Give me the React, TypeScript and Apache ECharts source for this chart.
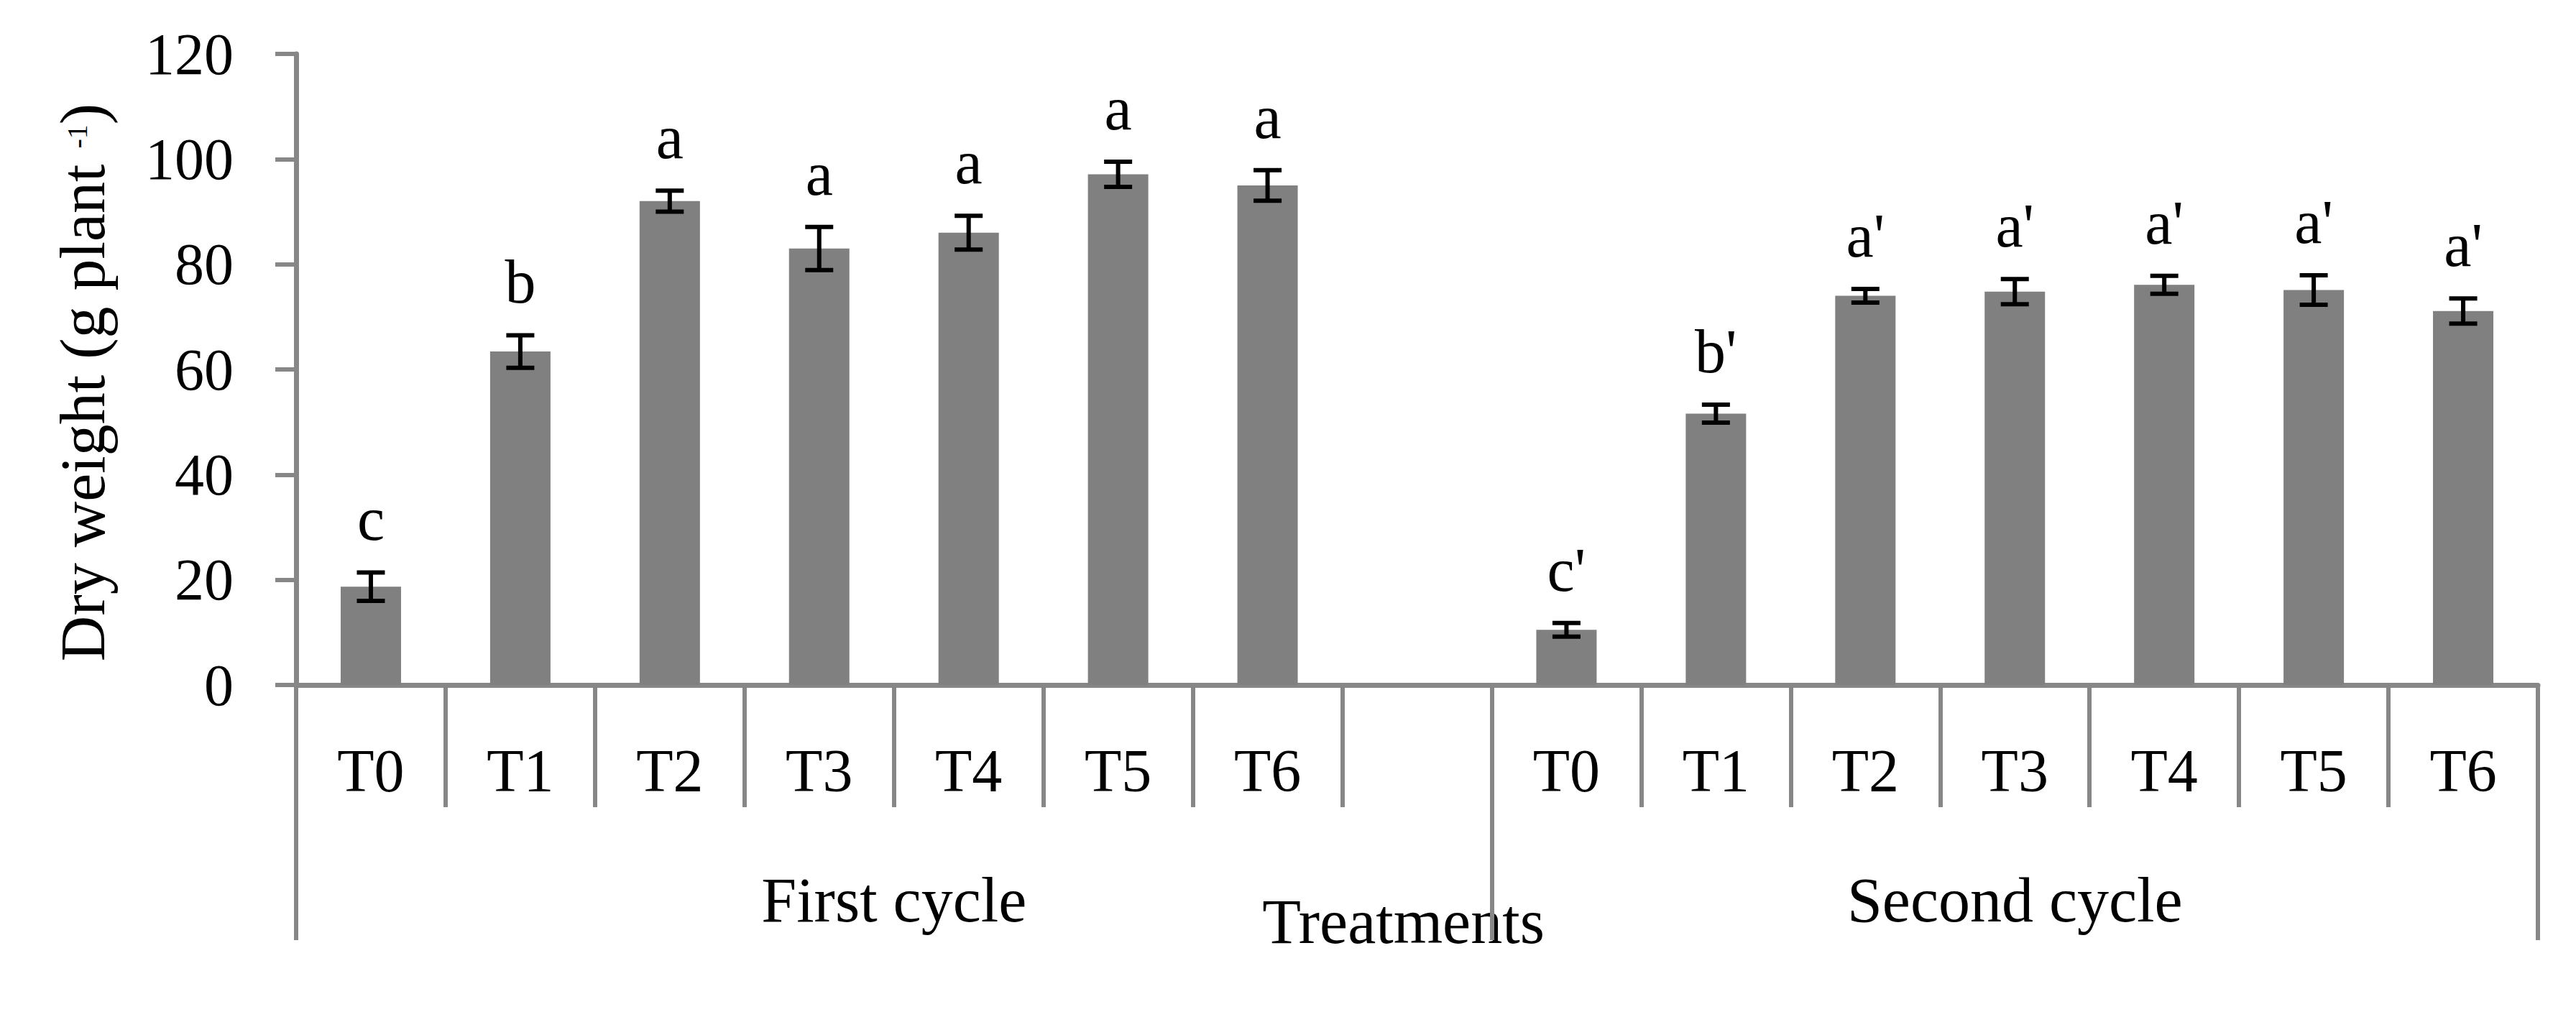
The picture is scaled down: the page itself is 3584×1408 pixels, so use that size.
import React, { useEffect, useRef } from 'react';
import * as echarts from 'echarts';

// ---- data ----
const treatments = ['T0', 'T1', 'T2', 'T3', 'T4', 'T5', 'T6'];
const groupNames = ['First cycle', 'Second cycle'];
const firstMeans = [18.7, 63.4, 92.0, 83.0, 86.0, 97.1, 95.0];
const firstErrors = [2.7, 3.1, 2.0, 4.1, 3.2, 2.4, 2.9];
const firstLetters = ['c', 'b', 'a', 'a', 'a', 'a', 'a'];
const secondMeans = [10.5, 51.6, 74.0, 74.8, 76.1, 75.1, 71.1];
const secondErrors = [1.3, 1.7, 1.3, 2.4, 1.7, 2.8, 2.4];
const secondLetters = ["c'", "b'", "a'", "a'", "a'", "a'", "a'"];
const yMin = 0;
const yMax = 120;
const yStep = 20;
const yAxisTitle = 'Dry weight (g plant {sup|-1})';
const xAxisTitle = 'Treatments';

const FONT = '"Liberation Serif", "Times New Roman", serif';
const AXIS_GRAY = '#878787';
const BAR_GRAY = '#808080';

export default function App() {
  const ref = useRef<HTMLDivElement>(null);

  useEffect(() => {
    if (!ref.current) return;
    const chart = echarts.init(ref.current, null, { renderer: 'svg' });

    // categories: first cycle, an empty gap slot, second cycle
    const categories = [
      ...treatments.map((t) => `${groupNames[0]}|${t}`),
      'gap|',
      ...treatments.map((t) => `${groupNames[1]}|${t}`),
    ];
    const nFirst = treatments.length + 1; // group 1 includes the empty slot
    const nTotal = categories.length;

    const barData = [...firstMeans, '-', ...secondMeans];

    const errData: number[][] = [];
    const errLetters: string[] = [];
    firstMeans.forEach((m, i) => {
      errData.push([i, m, firstErrors[i]]);
      errLetters.push(firstLetters[i]);
    });
    secondMeans.forEach((m, i) => {
      errData.push([nFirst + i, m, secondErrors[i]]);
      errLetters.push(secondLetters[i]);
    });

    const groupCenters = [nFirst / 2, (nFirst + nTotal) / 2];

    chart.setOption({
      animation: false,
      backgroundColor: '#ffffff',
      grid: { left: 412, right: 53, top: 75, bottom: 455, containLabel: false },
      xAxis: [
        {
          type: 'category',
          data: categories,
          position: 'bottom',
          boundaryGap: true,
          axisLine: { show: true, lineStyle: { color: AXIS_GRAY, width: 7 } },
          axisTick: {
            show: true,
            interval: 0,
            length: 170,
            lineStyle: { color: AXIS_GRAY, width: 6 },
          },
          axisLabel: {
            interval: 0,
            margin: 77,
            color: '#000',
            fontSize: 84,
            fontFamily: FONT,
            formatter: (v: string) => v.split('|')[1],
          },
          splitLine: { show: false },
        },
        {
          type: 'value',
          min: 0,
          max: nTotal,
          position: 'bottom',
          axisLine: { show: false },
          axisTick: {
            show: true,
            customValues: [0, nFirst, nTotal],
            length: 355,
            lineStyle: { color: AXIS_GRAY, width: 6 },
          },
          axisLabel: {
            show: true,
            customValues: groupCenters,
            margin: 255,
            color: '#000',
            fontSize: 88,
            fontFamily: FONT,
            formatter: (v: number) =>
              Math.abs(v - groupCenters[0]) < 1e-6 ? groupNames[0] : groupNames[1],
          },
          splitLine: { show: false },
          name: xAxisTitle,
          nameLocation: 'middle',
          nameGap: 285,
          nameMoveOverlap: false,
          nameTextStyle: {
            color: '#000',
            fontSize: 88,
            fontFamily: FONT,
            padding: [0, 38, 0, 0],
          },
        },
      ],
      yAxis: {
        type: 'value',
        min: yMin,
        max: yMax,
        interval: yStep,
        axisLine: { show: true, lineStyle: { color: AXIS_GRAY, width: 7 } },
        axisTick: { show: true, length: 29, lineStyle: { color: AXIS_GRAY, width: 6 } },
        axisLabel: { margin: 87, color: '#000', fontSize: 82, fontFamily: FONT },
        splitLine: { show: false },
        name: yAxisTitle,
        nameLocation: 'middle',
        nameGap: 253,
        nameMoveOverlap: false,
        nameTextStyle: {
          color: '#000',
          fontSize: 88,
          fontFamily: FONT,
          padding: [0, 36, 0, 0],
          rich: {
            sup: {
              fontSize: 40,
              fontFamily: FONT,
              color: '#000',
              verticalAlign: 'top',
              padding: [16, 0, 0, 0],
            },
          },
        },
      },
      series: [
        {
          type: 'bar',
          xAxisIndex: 0,
          data: barData,
          barWidth: '40.4%',
          itemStyle: { color: BAR_GRAY },
          silent: true,
        },
        {
          type: 'custom',
          xAxisIndex: 0,
          data: errData,
          silent: true,
          z: 5,
          renderItem: (params: any, api: any) => {
            const i = api.value(0);
            const m = api.value(1);
            const e = api.value(2);
            const top = api.coord([i, m + e]);
            const bot = api.coord([i, m - e]);
            const x = top[0];
            const half = 19.5;
            const st = { stroke: '#000', lineWidth: 6 };
            return {
              type: 'group',
              children: [
                { type: 'line', shape: { x1: x, y1: top[1], x2: x, y2: bot[1] }, style: st },
                { type: 'line', shape: { x1: x - half, y1: top[1], x2: x + half, y2: top[1] }, style: st },
                { type: 'line', shape: { x1: x - half, y1: bot[1], x2: x + half, y2: bot[1] }, style: st },
                {
                  type: 'text',
                  x: x,
                  y: top[1] - 31,
                  style: {
                    text: errLetters[params.dataIndex],
                    align: 'center',
                    verticalAlign: 'bottom',
                    fontSize: 86,
                    fontFamily: FONT,
                    fill: '#000',
                  },
                },
              ],
            };
          },
        },
      ],
    });

    return () => chart.dispose();
  }, []);

  return (
    <div
      ref={ref}
      style={{ position: 'absolute', left: 0, top: 0, width: 3584, height: 1408, background: '#fff' }}
    />
  );
}
